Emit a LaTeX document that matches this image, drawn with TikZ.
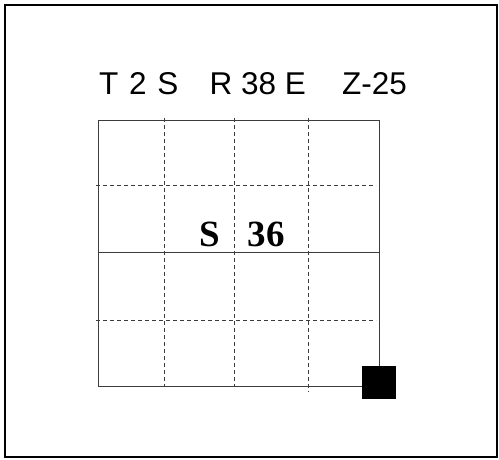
\documentclass[tikz,border=0pt]{standalone}
\usepackage{fontspec}
\setmainfont{Liberation Serif}
\newfontfamily\headfont{Liberation Sans}
\usepackage{tikz}
\usetikzlibrary{positioning}
\definecolor{gridgray}{RGB}{60,60,60}

\begin{document}
\begin{tikzpicture}[
    x=1pt, y=-1pt,
    frameline/.style={draw=black, line width=2.2pt},
    gridline/.style={draw=gridgray, line width=1pt},
    dashline/.style={draw=gridgray, line width=0.8pt, dash pattern=on 4pt off 3pt},
    headtext/.style={anchor=base west, inner sep=0pt, font=\headfont\fontsize{31.5}{38}\selectfont},
    celltext/.style={anchor=base west, inner sep=0pt, font=\bfseries\fontsize{37}{44}\selectfont},
]
    \useasboundingbox (0,0) rectangle (499,460);

    % Frame
    \draw[frameline] (5,5) rectangle (497,457);

    % Heading
    \node[headtext] (hdleft) at (99,95) {T\hspace{2pt} 2\hspace{2pt} S};
    \node[headtext] (hdmid) at (209.5,95) {R 38 E};
    \node[headtext] (hdright) at (342,95) {Z-25};

    % Grid
    \draw[dashline] (164.7,118) -- (164.7,386);
    \draw[dashline] (234.3,118) -- (234.3,386);
    \draw[dashline] (308.7,118) -- (308.7,392);
    \draw[dashline] (96,185.7) -- (376,185.7);
    \draw[dashline] (96,320.7) -- (376,320.7);
    \draw[gridline] (98.3,120.7) rectangle (379,386);
    \draw[gridline] (98.3,252.7) -- (379,252.7);

    % Cell label
    \node[celltext] (cellS) at (199,246.7) {S};
    \node[celltext] (cellnum) at (247.5,246.7) {36};

    % Marker
    \fill[black] (362.3,366) rectangle (395.7,399.3);
\end{tikzpicture}
\end{document}
